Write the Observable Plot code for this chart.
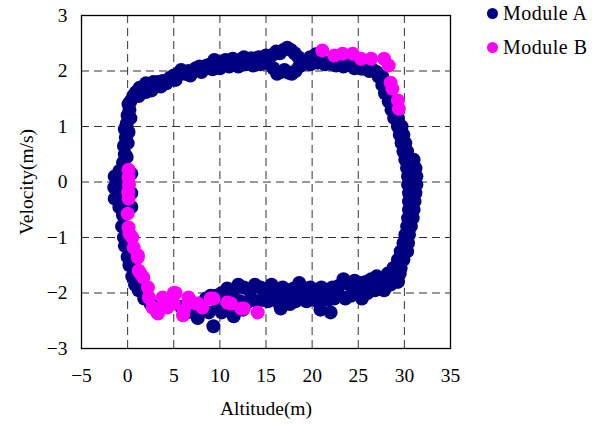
<!DOCTYPE html>
<html>
<head>
<meta charset="utf-8">
<script src="https://cdn.jsdelivr.net/npm/d3@7"></script>
<script src="https://cdn.jsdelivr.net/npm/@observablehq/plot@0.6"></script>
<style>
  html, body { margin: 0; padding: 0; background: #fff; }
  #wrap { position: relative; width: 592px; height: 424px; font-family: 'Liberation Serif', 'Times New Roman', serif; }
  #wrap svg, #wrap svg text { font-family: 'Liberation Serif', 'Times New Roman', serif !important; }
  #legend { position: absolute; left: 483px; top: 0px; font-size: 20px; color: #000; letter-spacing: 0.5px; }
  .row { position: absolute; left: 0; white-space: nowrap; height: 24px; line-height: 24px; }
  .sw { position: absolute; left: 4px; top: 7px; width: 11px; height: 11px; border-radius: 50%; }
  .lab { position: absolute; left: 20px; top: 0; }
</style>
</head>
<body>
<div id="wrap"></div>
<script>
const seriesNames = ["Module A", "Module B"];
const seriesColors = ["#000080", "#ff00ff"];
const xTicks = [-5, 0, 5, 10, 15, 20, 25, 30, 35];
const yTicks = [-3, -2, -1, 0, 1, 2, 3];
const gridXTicks = [0, 5, 10, 15, 20, 25, 30];
const gridYTicks = [-2, -1, 0, 1, 2];

// Module A: [altitude (m), velocity (m/s)]
const moduleA = [
  // left blob around v = 0
  [-1.4,0.1],[-1.45,-0.1],[-1.4,-0.3],[-0.9,0.2],[-0.8,0.0],[-0.9,-0.25],[-0.9,-0.45],
  [-0.3,0.15],[-0.3,-0.1],[-0.3,-0.4],[0.4,0.15],[0.4,-0.2],[0.4,-0.45],
  // left side going up
  [-0.5,0.35],[-0.3,0.5],[-0.4,0.65],[-0.2,0.8],[-0.3,0.95],[-0.1,1.05],[0.0,1.2],[0.2,1.3],[0.1,1.4],
  [-0.1,0.45],[0.0,0.7],[0.1,0.9],[0.3,1.15],
  [0.3,1.45],[0.6,1.55],[0.9,1.62],[1.3,1.7],[1.2,1.55],[1.7,1.68],[2.0,1.78],[2.0,1.62],[2.4,1.75],
  [2.8,1.8],[3.3,1.8],[3.8,1.82],[4.2,1.78],[4.6,1.88],[5.0,1.92],[5.5,1.95],[5.8,2.02],[6.2,1.95],
  [2.6,1.65],[3.0,1.72],[3.6,1.72],[4.4,1.82],[5.2,1.84],
  // top
  [6.6,2.0],[7.0,1.98],[7.4,2.05],[7.8,2.08],[8.2,2.05],[8.6,2.1],[9.0,2.12],[9.4,2.2],[9.8,2.12],
  [10.2,2.15],[10.6,2.2],[11.0,2.18],[11.4,2.22],[11.8,2.15],[12.2,2.2],[12.6,2.25],[13.0,2.2],
  [13.4,2.23],[13.8,2.18],[14.2,2.25],[14.6,2.22],[15.0,2.28],[15.4,2.25],[15.8,2.3],[16.1,2.35],
  [16.5,2.32],[16.9,2.38],[17.3,2.42],[17.7,2.38],[18.1,2.32],[18.5,2.25],
  [6.8,1.92],[8.0,1.98],[9.2,2.03],[10.0,2.05],[11.0,2.08],[12.0,2.08],[12.8,2.12],[13.6,2.1],[14.4,2.12],[15.0,2.15],
  [15.8,2.05],[16.2,1.95],[16.6,1.98],[17.0,2.02],[17.4,1.97],[17.8,1.95],[18.2,2.0],[18.6,2.08],
  [19.0,2.12],[19.4,2.15],[19.8,2.12],[20.2,2.18],[20.6,2.15],[21.0,2.2],[21.4,2.12],[21.8,2.15],
  [22.2,2.12],[22.6,2.1],[23.0,2.12],[23.4,2.08],[23.8,2.12],[24.2,2.1],[24.6,2.05],[25.0,2.08],
  [25.4,2.04],[25.8,2.05],[26.2,2.0],[26.6,2.02],[27.0,1.98],[19.8,2.25],[20.4,2.3],
  // right side going down
  [27.2,1.9],[27.6,1.9],[27.6,1.75],[28.0,1.75],[27.9,1.6],[28.3,1.6],[28.3,1.45],[28.7,1.45],
  [28.6,1.3],[29.0,1.3],[28.9,1.15],[29.3,1.15],[29.3,1.0],[29.7,1.0],[29.5,0.85],[29.9,0.85],
  [29.7,0.7],[30.1,0.7],[29.9,0.55],[30.3,0.55],[30.1,0.4],[30.6,0.4],[31.0,0.4],
  [30.3,0.25],[30.9,0.25],[31.2,0.25],[30.4,0.1],[31.0,0.1],[31.3,0.1],[30.4,-0.05],[31.0,-0.05],[31.3,-0.05],
  [30.5,-0.2],[31.2,-0.2],[30.5,-0.35],[31.1,-0.35],[30.5,-0.5],[31.0,-0.5],[30.4,-0.65],[30.9,-0.65],
  [30.3,-0.8],[30.7,-0.8],[30.1,-0.95],[30.5,-0.95],[29.9,-1.1],[30.4,-1.1],[29.6,-1.25],[30.3,-1.25],
  [29.3,-1.4],[29.9,-1.4],[28.8,-1.55],[29.6,-1.55],[28.2,-1.65],[29.5,-1.65],[27.6,-1.75],[28.4,-1.75],
  [28.5,-1.85],[27.8,-1.95],[29.3,-1.8],
  // bottom, upper row
  [27.0,-1.7],[26.4,-1.75],[25.8,-1.8],[25.2,-1.82],[24.6,-1.78],[24.0,-1.85],[23.4,-1.75],[22.8,-1.88],
  [22.2,-1.9],[21.6,-1.95],[21.0,-1.9],[20.4,-1.95],[19.8,-1.9],[19.2,-1.92],[18.6,-1.82],[18.0,-1.92],
  [17.4,-1.95],[16.8,-1.9],[16.2,-1.95],[15.6,-1.85],[15.0,-1.95],[14.4,-1.9],[13.8,-1.85],[13.2,-1.95],
  [12.6,-1.9],[12.0,-1.85],[11.4,-1.95],[10.8,-1.92],[10.2,-2.0],[9.6,-2.05],[9.0,-2.05],
  // bottom, lower row
  [27.4,-1.9],[26.8,-1.95],[26.0,-2.0],[25.4,-2.1],[24.8,-2.0],[24.2,-2.05],[23.6,-2.1],[23.0,-2.05],
  [22.4,-2.1],[21.8,-2.12],[21.2,-2.05],[20.6,-2.15],[20.0,-2.1],[19.4,-2.15],[18.8,-2.08],[18.2,-2.15],
  [17.6,-2.2],[17.0,-2.12],[16.4,-2.18],[15.8,-2.1],[15.2,-2.15],[14.6,-2.12],[14.0,-2.15],[13.4,-2.1],
  [12.8,-2.2],[12.2,-2.15],[11.6,-2.1],[11.0,-2.2],[10.4,-2.15],[9.8,-2.25],
  // bottom outliers
  [22.0,-2.35],[20.9,-2.3],[16.6,-2.28],[9.3,-2.6],[11.5,-2.42],[12.5,-2.3],[8.8,-2.35],[7.6,-2.45],[10.2,-2.35],
  // lower left
  [-0.5,-0.6],[-0.6,-0.8],[-0.4,-1.0],[-0.3,-1.15],[0.0,-1.35],[0.2,-1.5],[0.5,-1.7],[0.8,-1.85],
  [1.2,-1.95],[1.8,-2.1],[2.5,-2.2],[3.2,-2.25],[4.0,-2.2],[4.8,-2.15],[5.8,-2.25],[6.5,-2.35],
  [7.2,-2.3],[8.0,-2.2],[8.5,-2.1]
];

// Module B: [altitude (m), velocity (m/s)]
const moduleB = [
  [0.1,0.22],[0.1,0.08],[0.15,-0.05],[0.05,-0.18],[0.1,-0.3],
  [0.0,-0.57],[0.1,-0.82],[0.2,-0.93],[0.5,-1.0],[0.65,-1.18],[1.1,-1.32],[1.1,-1.36],
  [1.2,-1.6],[1.4,-1.65],[1.7,-1.72],[2.2,-1.9],[2.3,-2.08],[2.7,-2.26],[3.3,-2.37],[3.2,-2.35],
  [3.8,-2.08],[3.9,-2.26],[4.3,-2.26],[5.0,-2.0],[5.2,-2.0],[5.0,-2.19],[6.0,-2.4],[6.1,-2.32],
  [6.6,-2.08],[6.6,-2.17],[7.4,-2.19],[7.6,-2.19],[8.1,-2.26],[9.0,-2.1],[9.3,-2.1],[10.8,-2.17],
  [11.2,-2.19],[12.3,-2.28],[12.6,-2.28],[14.1,-2.35],
  [21.1,2.37],[22.4,2.28],[23.3,2.31],[24.4,2.31],[25.3,2.22],[26.4,2.22],[27.8,2.22],[28.3,2.1],
  [28.5,1.79],[28.7,1.68],[29.3,1.47],[29.4,1.32]
];

const rows = [
  ...moduleA.map(([x, y]) => ({altitude: x, velocity: y, series: seriesNames[0]})),
  ...moduleB.map(([x, y]) => ({altitude: x, velocity: y, series: seriesNames[1]}))
];

const fmt = d => (d < 0 ? "\u2212" : "") + Math.abs(d);

const chart = Plot.plot({
  width: 592,
  height: 424,
  marginLeft: 81,
  marginRight: 142,
  marginTop: 15,
  marginBottom: 76,
  style: {fontFamily: "'Liberation Serif', 'Times New Roman', serif", fontSize: "19px", background: "#fff", color: "#000"},
  x: {domain: [-5, 35]},
  y: {domain: [-3, 3]},
  color: {domain: seriesNames, range: seriesColors},
  marks: [
    Plot.ruleX(gridXTicks, {stroke: "#333", strokeWidth: 1, strokeDasharray: "8,5"}),
    Plot.ruleY(gridYTicks, {stroke: "#333", strokeWidth: 1, strokeDasharray: "8,5"}),
    Plot.dot(rows, {x: "altitude", y: "velocity", fill: "series", r: 7, stroke: null}),
    Plot.frame({stroke: "#000", strokeWidth: 1.3}),
    Plot.axisX(xTicks, {tickSize: 0, tickPadding: 20, fontSize: 19.5, tickFormat: fmt, label: "Altitude(m)", labelAnchor: "center", labelOffset: 66, labelArrow: "none"}),
    Plot.axisY(yTicks, {tickSize: 0, tickPadding: 14, fontSize: 19.5, tickFormat: fmt, label: "Velocity(m/s)", labelAnchor: "center", labelOffset: 62, labelArrow: "none"})
  ]
});

const wrap = document.getElementById("wrap");
wrap.appendChild(chart);
const legend = document.createElement("div");
legend.id = "legend";
seriesNames.forEach((name, i) => {
  const row = document.createElement("div");
  row.className = "row";
  row.style.top = (1 + i * 34) + "px";
  const sw = document.createElement("span");
  sw.className = "sw";
  sw.style.background = seriesColors[i];
  const lab = document.createElement("span");
  lab.className = "lab";
  lab.textContent = name;
  row.appendChild(sw);
  row.appendChild(lab);
  legend.appendChild(row);
});
wrap.appendChild(legend);
</script>
</body>
</html>
